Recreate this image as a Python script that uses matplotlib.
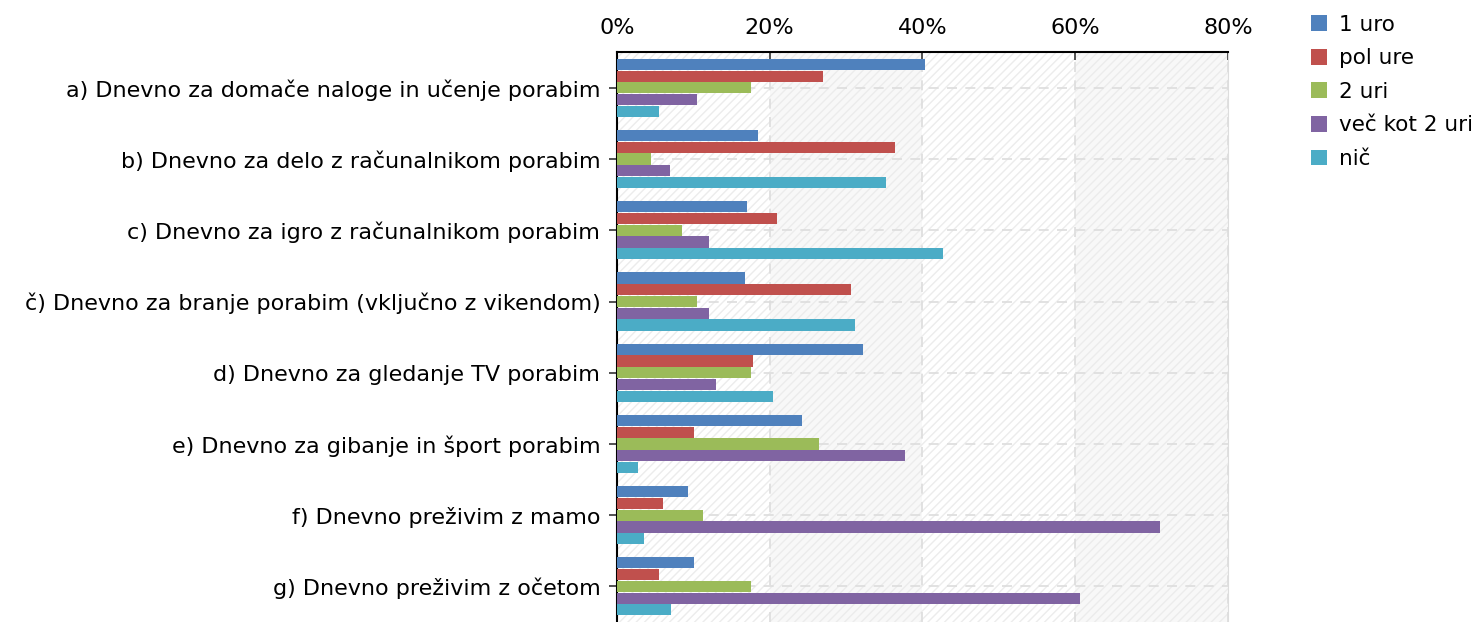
import matplotlib.pyplot as plt
import numpy as np

# Data (percent)
categories = [
    'a) Dnevno za domače naloge in učenje porabim',
    'b) Dnevno za delo z računalnikom porabim',
    'c) Dnevno za igro z računalnikom porabim',
    'č) Dnevno za branje porabim (vključno z vikendom)',
    'd) Dnevno za gledanje TV porabim',
    'e) Dnevno za gibanje in šport porabim',
    'f) Dnevno preživim z mamo',
    'g) Dnevno preživim z očetom',
]
series_names = ['1 uro', 'pol ure', '2 uri', 'več kot 2 uri', 'nič']
ena_ura = [40.4, 18.5, 17.0, 16.8, 32.2, 24.2, 9.3, 10.1]
pol_ure = [27.0, 36.4, 20.9, 30.6, 17.8, 10.1, 6.0, 5.5]
dve_uri = [17.5, 4.5, 8.5, 10.5, 17.5, 26.4, 11.3, 17.5]
vec_kot_2 = [10.5, 6.9, 12.0, 12.0, 13.0, 37.7, 71.1, 60.6]
nic = [5.5, 35.2, 42.7, 31.2, 20.4, 2.7, 3.5, 7.1]
colors = ['#4F81BD', '#C0504D', '#9BBB59', '#8064A2', '#4BACC6']

values = [ena_ura, pol_ure, dve_uri, vec_kot_2, nic]

fig = plt.figure(figsize=(14.83, 6.22), dpi=100)
ax = fig.add_axes([0.416, 0.0, 0.412, 0.916])

n = len(categories)
y = np.arange(n)
h = 0.165

# striped background bands
for i, x0 in enumerate(range(0, 80, 20)):
    ax.axvspan(x0, x0 + 20, facecolor='#f8f8f8' if i % 2 else 'white',
               edgecolor='#ececec', hatch='////', linewidth=0, zorder=0)

for k, (name, vals) in enumerate(zip(series_names, values)):
    ax.barh(y + (k - 2) * h, vals, height=h * 0.95, color=colors[k],
            label=name, zorder=3)

ax.set_xlim(0, 80)
ax.set_ylim(n - 0.5, -0.5)
ax.set_xticks([0, 20, 40, 60, 80])
ax.set_xticklabels(['0%', '20%', '40%', '60%', '80%'])
ax.xaxis.tick_top()
ax.set_yticks(y)
ax.set_yticklabels(categories)
ax.tick_params(axis='both', labelsize=16, length=6, width=1.2, color='#333333')
ax.tick_params(axis='x', direction='in', pad=10)
ax.tick_params(axis='y', pad=6)

ax.grid(True, linestyle=(0, (6, 5)), color='#dddddd', linewidth=1.2, zorder=1)
ax.set_axisbelow(True)

ax.spines['bottom'].set_visible(False)
ax.spines['right'].set_color('#dddddd')
ax.spines['top'].set_linewidth(1.5)
ax.spines['left'].set_linewidth(1.5)

ax.legend(loc='upper left', bbox_to_anchor=(1.122, 1.081), frameon=False,
          fontsize=15.5, handlelength=0.75, handleheight=0.75,
          handletextpad=0.55, labelspacing=0.63, borderaxespad=0)

fig.savefig('out.png', dpi=100)
